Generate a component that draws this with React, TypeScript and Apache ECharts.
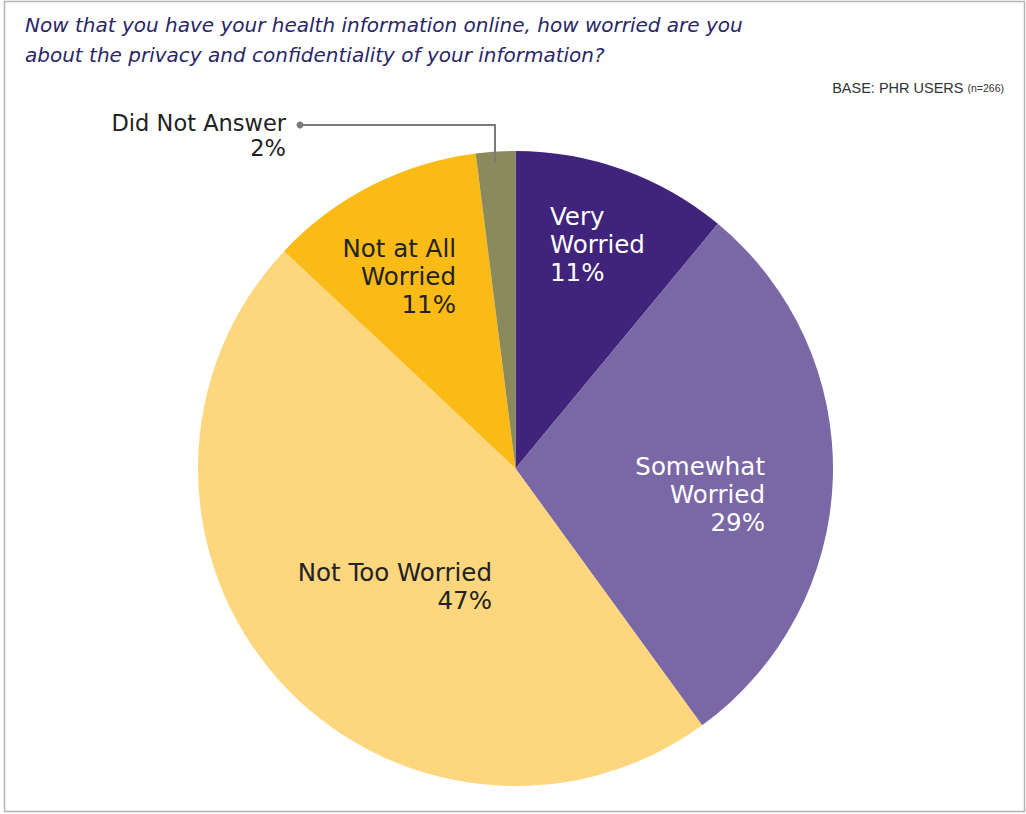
import React, { useEffect, useRef } from "react";
import * as echarts from "echarts";

const categories = ["Very Worried", "Somewhat Worried", "Not Too Worried", "Not at All Worried", "Did Not Answer"];
const labelTexts = ["Very\nWorried", "Somewhat\nWorried", "Not Too Worried", "Not at All\nWorried", "Did Not Answer"];
const values = [11, 29, 47, 11, 2];
const colors = ["#40237a", "#7a67a5", "#fdd67e", "#fbbb17", "#8b8a5c"];
const labelColors = ["#ffffff", "#ffffff", "#222222", "#222222", "#222222"];

const titleText = "Now that you have your health information online, how worried are you\nabout the privacy and confidentiality of your information?";

// label anchor positions (annotation layout)
const labelPos: { x: number; y: number; align: string }[] = [
  { x: 550, y: 244, align: "left" },
  { x: 765, y: 494, align: "right" },
  { x: 492, y: 586, align: "right" },
  { x: 456, y: 276, align: "right" },
  { x: 286, y: 135, align: "right" },
];

export default function App() {
  const ref = useRef<HTMLDivElement>(null);
  useEffect(() => {
    if (!ref.current) return;
    const chart = echarts.init(ref.current, undefined, { renderer: "svg" });
    chart.setOption({
      animation: false,
      backgroundColor: "#ffffff",
      title: {
        text: titleText,
        left: 20,
        top: 5,
        textStyle: {
          fontFamily: "DejaVu Sans",
          fontStyle: "italic",
          fontWeight: "normal",
          fontSize: 20,
          lineHeight: 30,
          color: "#2a2766",
        },
      },
      graphic: [
        {
          type: "rect",
          shape: { x: 4.5, y: 1.5, width: 1020, height: 810 },
          style: { fill: "none", stroke: "#b4b4b4", lineWidth: 1.5 },
          silent: true,
        },
        {
          type: "text",
          right: 22,
          top: 80,
          style: {
            text: "{a|BASE: PHR USERS }{b|(n=266)}",
            rich: {
              a: { fontFamily: "Liberation Sans", fontSize: 14.5, fill: "#333333" },
              b: { fontFamily: "Liberation Sans", fontSize: 10.5, fill: "#333333" },
            },
          },
        },
        {
          type: "polyline",
          shape: { points: [[300, 125], [495, 125], [495, 162]] },
          style: { stroke: "#7a7a7a", lineWidth: 2, fill: "none" },
          z: 10,
        },
        {
          type: "circle",
          shape: { cx: 300, cy: 125, r: 3.5 },
          style: { fill: "#7a7a7a" },
          z: 10,
        },
      ],
      series: [
        {
          type: "pie",
          center: [515.5, 468.5],
          radius: [0, 317.5],
          startAngle: 90,
          clockwise: true,
          avoidLabelOverlap: false,
          labelLine: { show: false },
          label: {
            show: true,
            position: "inside",
            fontFamily: "DejaVu Sans",
            fontSize: 24.5,
            lineHeight: 28,
            formatter: (p: any) => labelTexts[p.dataIndex] + "\n" + p.value + "%",
          },
          labelLayout: (p: any) => {
            const lp = labelPos[p.dataIndex];
            return { x: lp.x, y: lp.y, align: lp.align, verticalAlign: "middle" };
          },
          data: categories.map((c, i) => ({
            name: c,
            value: values[i],
            itemStyle: { color: colors[i] },
            label:
              i === 4
                ? { color: labelColors[i], fontSize: 22.5, lineHeight: 25 }
                : { color: labelColors[i] },
          })),
        },
      ],
    });
    return () => chart.dispose();
  }, []);
  return (
    <div
      ref={ref}
      style={{ position: "absolute", left: 0, top: 0, width: 1026, height: 814 }}
    />
  );
}
